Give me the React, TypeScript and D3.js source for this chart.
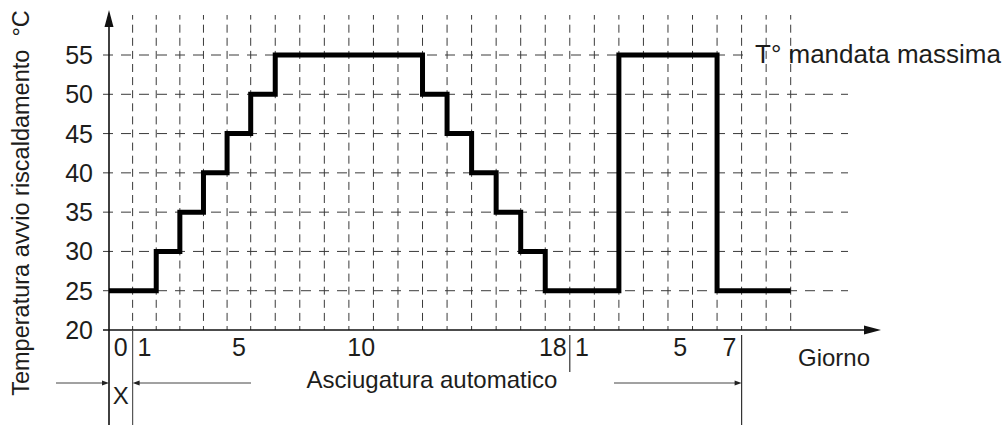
import React from "react";
import * as d3 from "d3";

// ---- data ----
const tempTicks = [20, 25, 30, 35, 40, 45, 50, 55];
// phase 1: "Asciugatura" days 0..18 ; phase 2: "automatico" days 1..9
const phase1Days = [0, 1, 2, 3, 4, 5, 6, 7, 8, 9, 10, 11, 12, 13, 14, 15, 16, 17, 18];
const phase1Temps = [25, 25, 30, 35, 40, 45, 50, 55, 55, 55, 55, 55, 55, 50, 45, 40, 35, 30, 25];
const phase2Days = [1, 2, 3, 4, 5, 6, 7, 8, 9];
const phase2Temps = [25, 25, 55, 55, 55, 55, 25, 25, 25];
const phase1Labels = [0, 1, 5, 10, 18];
const phase2Labels = [1, 5, 7];

const yTitle = "Temperatura avvio riscaldamento  °C";
const maxLabel = "T° mandata massima";
const xTitle = "Giorno";
const phaseTitle = "Asciugatura automatico";
const xMark = "X";

const FONT = "'Liberation Sans', Arial, Helvetica, sans-serif";
const TEXT = "#1d1d1b";
const GRID = "#3a3a3a";

export default function App() {
  const W = 1006;
  const H = 425;
  // slot index: phase1 day d -> d ; phase2 day d -> 18 + d
  const nSlots = phase1Days.length + phase2Days.length; // 28
  const x = d3.scaleLinear().domain([0, 6, nSlots]).range([109, 250.7, 790.7]);
  const y = d3.scaleLinear().domain([20, 55]).range([330, 55]);

  const slotP1 = (d: number) => d;
  const slotP2 = (d: number) => phase1Days.length - 1 + d;

  const pts: [number, number][] = [];
  phase1Days.forEach((d, i) => pts.push([slotP1(d), phase1Temps[i]]));
  phase2Days.forEach((d, i) => pts.push([slotP2(d), phase2Temps[i]]));
  pts.push([nSlots, phase2Temps[phase2Temps.length - 1]]);

  const stepLine = d3
    .line<[number, number]>()
    .x((p) => x(p[0]))
    .y((p) => y(p[1]))
    .curve(d3.curveStepAfter);

  const x0 = x(0);
  const yAxisY = y(20);
  const gridTop = 15;
  const vGrid = d3.range(1, nSlots + 1);
  const hGrid = tempTicks.filter((t) => t > 20);

  const sep1 = x(1);
  const sep2 = x(slotP2(1));
  const sep3 = x(slotP2(8));
  const arrowY = 383;
  const lastP1 = phase1Days[phase1Days.length - 1];

  return (
    <svg
      width={W}
      height={H}
      style={{ position: "absolute", left: 0, top: 0, background: "#fff" }}
      fontFamily={FONT}
    >
      {/* vertical dashed grid */}
      {vGrid.map((t) => (
        <path
          key={"v" + t}
          d={`M${x(t)},${yAxisY} V${gridTop}`}
          stroke={GRID}
          strokeWidth={1}
          strokeDasharray="8,5.1"
          strokeDashoffset={4}
          fill="none"
        />
      ))}
      {/* horizontal dashed grid */}
      {hGrid.map((t) => (
        <path
          key={"h" + t}
          d={`M${x0 - 6},${y(t)} H${t === 55 ? 745 : 848}`}
          stroke={GRID}
          strokeWidth={1}
          strokeDasharray="10,8"
          fill="none"
        />
      ))}

      {/* axes */}
      <path d={`M${x0},${gridTop + 8} V${H}`} stroke="#111" strokeWidth={1.6} fill="none" />
      <path d={`M${x0},10 L${x0 - 4.5},27 L${x0 + 4.5},27 Z`} fill="#111" />
      <path d={`M${x0 - 6},${yAxisY} H868`} stroke="#111" strokeWidth={1.6} fill="none" />
      <path d={`M881,${yAxisY} L864,${yAxisY - 4.5} L864,${yAxisY + 4.5} Z`} fill="#111" />

      {/* step profile */}
      <path
        d={stepLine(pts) || ""}
        stroke="#000"
        strokeWidth={5}
        fill="none"
        strokeLinejoin="miter"
        strokeLinecap="butt"
      />

      {/* y tick labels */}
      {tempTicks.map((t) => (
        <text
          key={"yt" + t}
          x={93}
          y={y(t) + 9}
          textAnchor="end"
          fontSize={25}
          fill={TEXT}
        >
          {t}
        </text>
      ))}

      {/* day labels */}
      {phase1Labels.map((d) => (
        <text
          key={"p1" + d}
          x={d === lastP1 ? sep2 - 3 : x(slotP1(d) + 0.5)}
          y={356}
          textAnchor={d === lastP1 ? "end" : "middle"}
          fontSize={25}
          fill={TEXT}
        >
          {d}
        </text>
      ))}
      {phase2Labels.map((d) => (
        <text
          key={"p2" + d}
          x={x(slotP2(d) + 0.5)}
          y={356}
          textAnchor="middle"
          fontSize={25}
          fill={TEXT}
        >
          {d}
        </text>
      ))}

      {/* separators */}
      <path d={`M${sep1},${yAxisY} V${H}`} stroke="#555" strokeWidth={1.2} />
      <path d={`M${sep2},335 V372`} stroke="#333" strokeWidth={1.2} />
      <path d={`M${sep3},335 V${H}`} stroke="#333" strokeWidth={1.2} />

      {/* phase arrows */}
      <path d={`M56,${arrowY} H${x0 - 5}`} stroke="#444" strokeWidth={1} />
      <path d={`M${x0},${arrowY} L${x0 - 7},${arrowY - 2.5} L${x0 - 7},${arrowY + 2.5} Z`} fill="#222" />
      <path d={`M${sep1 + 5},${arrowY} H251`} stroke="#444" strokeWidth={1} />
      <path d={`M${sep1},${arrowY} L${sep1 + 7},${arrowY - 2.5} L${sep1 + 7},${arrowY + 2.5} Z`} fill="#222" />
      <path d={`M614,${arrowY} H${sep3 - 5}`} stroke="#444" strokeWidth={1} />
      <path d={`M${sep3},${arrowY} L${sep3 - 7},${arrowY - 2.5} L${sep3 - 7},${arrowY + 2.5} Z`} fill="#222" />

      {/* texts */}
      <text x={(x0 + sep1) / 2} y={404} textAnchor="middle" fontSize={24} fill={TEXT}>
        {xMark}
      </text>
      <text x={432} y={388} textAnchor="middle" fontSize={24} fill={TEXT}>
        {phaseTitle}
      </text>
      <text x={798} y={366} fontSize={24} fill={TEXT}>
        {xTitle}
      </text>
      <text x={755} y={63} fontSize={26} fill={TEXT}>
        {maxLabel}
      </text>
      <text
        transform={`translate(29,203) rotate(-90)`}
        textAnchor="middle"
        fontSize={23.5}
        fill={TEXT}
        xmlSpace="preserve"
        style={{ whiteSpace: "pre" }}
      >
        {yTitle}
      </text>
    </svg>
  );
}
